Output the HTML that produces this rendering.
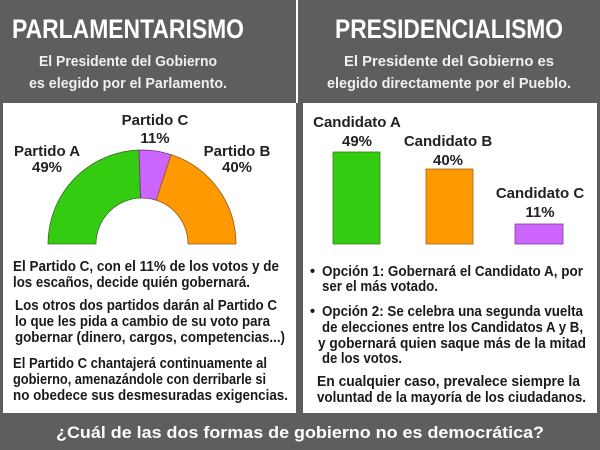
<!DOCTYPE html>
<html><head><meta charset="utf-8"><style>
html,body{margin:0;padding:0;background:#fff}
svg{display:block}
text{font-family:"Liberation Sans",Arial,sans-serif;font-weight:bold}
</style></head><body>
<svg width="600" height="450" viewBox="0 0 600 450" xmlns="http://www.w3.org/2000/svg">
<rect x="0" y="0" width="600" height="450" fill="#5e5e5e"/>
<rect x="3" y="103" width="293" height="310" fill="#fff"/>
<rect x="303" y="103" width="294" height="310" fill="#fff"/>
<rect x="296" y="0" width="2" height="103" fill="#fff"/>
<text x="128" y="38" font-size="27" fill="#fff" text-anchor="middle" textLength="232" lengthAdjust="spacingAndGlyphs">PARLAMENTARISMO</text>
<text x="449" y="38" font-size="27" fill="#fff" text-anchor="middle" textLength="228" lengthAdjust="spacingAndGlyphs">PRESIDENCIALISMO</text>
<g font-size="15" fill="#f0f0f0" text-anchor="middle">
<text x="128" y="66" textLength="178" lengthAdjust="spacingAndGlyphs">El Presidente del Gobierno</text>
<text x="128" y="88" textLength="198" lengthAdjust="spacingAndGlyphs">es elegido por el Parlamento.</text>
<text x="449" y="66" textLength="210" lengthAdjust="spacingAndGlyphs">El Presidente del Gobierno es</text>
<text x="449" y="88" textLength="244" lengthAdjust="spacingAndGlyphs">elegido directamente por el Pueblo.</text>
</g>
<path d="M48,244 A94,94 0 0 1 139.05,150.05 L140.56,198.02 A46,46 0 0 0 96,244 Z" fill="#33cc11" stroke="#3a6b22" stroke-width="0.8"/>
<path d="M139.05,150.05 A94,94 0 0 1 171.05,154.6 L156.2,200.25 A46,46 0 0 0 140.56,198.02 Z" fill="#cc66ff" stroke="#663377" stroke-width="0.8"/>
<path d="M171.05,154.6 A94,94 0 0 1 236,244 L188,244 A46,46 0 0 0 156.2,200.25 Z" fill="#ff9900" stroke="#995522" stroke-width="0.8"/>
<g font-size="15" fill="#222" text-anchor="middle">
<text x="155" y="125">Partido C</text><text x="155" y="143">11%</text>
<text x="47" y="156">Partido A</text><text x="47" y="172">49%</text>
<text x="237" y="156">Partido B</text><text x="237" y="172">40%</text>
<text x="357" y="127">Candidato A</text><text x="357" y="146">49%</text>
<text x="448" y="146">Candidato B</text><text x="448" y="165">40%</text>
<text x="540" y="198">Candidato C</text><text x="540" y="217">11%</text>
</g>
<rect x="333" y="152" width="47" height="92" fill="#33cc11" stroke="#3a7a22" stroke-width="0.8"/>
<rect x="426" y="169" width="47" height="75" fill="#ff9900" stroke="#a06020" stroke-width="0.8"/>
<rect x="515" y="224" width="48" height="20" fill="#cc66ff" stroke="#7a4090" stroke-width="0.8"/>
<g font-size="14.5" fill="#1a1a1a" lengthAdjust="spacingAndGlyphs">
<text x="13" y="271" textLength="266" lengthAdjust="spacingAndGlyphs">El Partido C, con el 11% de los votos y de</text>
<text x="13" y="287" textLength="237" lengthAdjust="spacingAndGlyphs">los escaños, decide quién gobernará.</text>
<text x="15" y="310" textLength="262" lengthAdjust="spacingAndGlyphs">Los otros dos partidos darán al Partido C</text>
<text x="15" y="326" textLength="255" lengthAdjust="spacingAndGlyphs">lo que les pida a cambio de su voto para</text>
<text x="15" y="342" textLength="270" lengthAdjust="spacingAndGlyphs">gobernar (dinero, cargos, competencias...)</text>
<text x="13" y="368" textLength="254" lengthAdjust="spacingAndGlyphs">El Partido C chantajerá continuamente al</text>
<text x="13" y="384" textLength="253" lengthAdjust="spacingAndGlyphs">gobierno, amenazándole con derribarle si</text>
<text x="13" y="400" textLength="275" lengthAdjust="spacingAndGlyphs">no obedece sus desmesuradas exigencias.</text>
<text x="310" y="276">•</text>
<text x="322" y="276" textLength="261" lengthAdjust="spacingAndGlyphs">Opción 1: Gobernará el Candidato A, por</text>
<text x="322" y="291" textLength="116" lengthAdjust="spacingAndGlyphs">ser el más votado.</text>
<text x="310" y="316">•</text>
<text x="322" y="316" textLength="261" lengthAdjust="spacingAndGlyphs">Opción 2: Se celebra una segunda vuelta</text>
<text x="322" y="332" textLength="261" lengthAdjust="spacingAndGlyphs">de elecciones entre los Candidatos A y B,</text>
<text x="318" y="348" textLength="268" lengthAdjust="spacingAndGlyphs">y gobernará quien saque más de la mitad</text>
<text x="322" y="363" textLength="80" lengthAdjust="spacingAndGlyphs">de los votos.</text>
<text x="317" y="386" textLength="263" lengthAdjust="spacingAndGlyphs">En cualquier caso, prevalece siempre la</text>
<text x="317" y="402" textLength="269" lengthAdjust="spacingAndGlyphs">voluntad de la mayoría de los ciudadanos.</text>
</g>
<text x="300" y="438" font-size="17" fill="#fff" text-anchor="middle" textLength="488" lengthAdjust="spacingAndGlyphs">¿Cuál de las dos formas de gobierno no es democrática?</text>
</svg>
</body></html>
